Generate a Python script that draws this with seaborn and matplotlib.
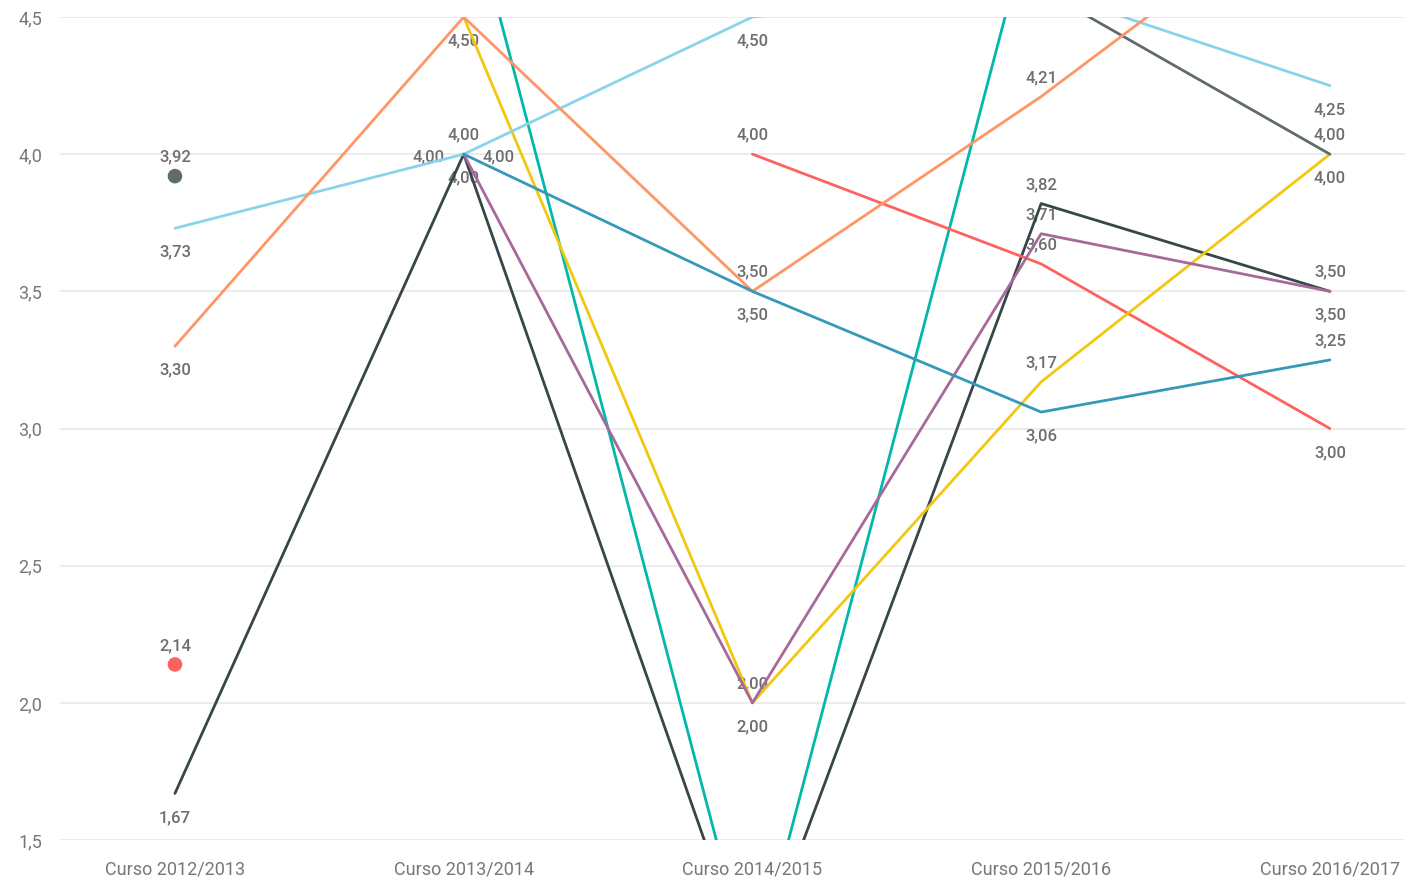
import numpy as np
import pandas as pd
import matplotlib.pyplot as plt
import seaborn as sns

nan = np.nan

CURSOS = ['Curso 2012/2013', 'Curso 2013/2014', 'Curso 2014/2015',
          'Curso 2015/2016', 'Curso 2016/2017']

# values (points outside 1.5-4.5 are clipped, estimated)
serie_1 = [nan, 5.00, 1.00, 5.00, 5.00]
serie_2 = [1.67, 4.00, 1.00, 3.82, 3.50]
serie_3 = [2.14, nan, 4.00, 3.60, 3.00]
serie_4 = [nan, 4.50, 2.00, 3.17, 4.00]
serie_5 = [3.92, nan, nan, 4.60, 4.00]
serie_6 = [3.73, 4.00, 4.50, 4.60, 4.25]
serie_7 = [3.30, 4.50, 3.50, 4.21, 5.00]
serie_8 = [nan, 4.00, 2.00, 3.71, 3.50]
serie_9 = [nan, 4.00, 3.50, 3.06, 3.25]

SERIES = {'Serie 1': serie_1, 'Serie 2': serie_2, 'Serie 3': serie_3,
          'Serie 4': serie_4, 'Serie 5': serie_5, 'Serie 6': serie_6,
          'Serie 7': serie_7, 'Serie 8': serie_8, 'Serie 9': serie_9}

COLORS = {'Serie 1': '#01B8AA', 'Serie 2': '#374649', 'Serie 3': '#FD625E',
          'Serie 4': '#F2C80F', 'Serie 5': '#5F6B6D', 'Serie 6': '#8AD4EB',
          'Serie 7': '#FE9666', 'Serie 8': '#A66999', 'Serie 9': '#3599B8'}

# where each data label sits: a=above, b=below, l=left, r=right, None=hidden
LABEL_POS = {'Serie 1': [None] * 5,
             'Serie 2': ['b', 'b', None, 'a', 'a'],
             'Serie 3': ['a', None, 'a', 'a', 'b'],
             'Serie 4': [None, 'b', 'a', 'a', 'b'],
             'Serie 5': ['a', None, None, None, 'a'],
             'Serie 6': ['b', 'a', 'b', None, 'b'],
             'Serie 7': ['b', None, 'a', 'a', None],
             'Serie 8': [None, 'l', 'b', 'a', 'b'],
             'Serie 9': [None, 'r', 'b', 'b', 'a']}
OFFSETS = {'a': (0, 19), 'b': (0, -24), 'l': (-35, -3), 'r': (35, -3)}

YMIN, YMAX = 1.5, 4.5

# long-form table, with a segment id so gaps break the lines
rows = []
for name, vals in SERIES.items():
    seg = 0
    for i, v in enumerate(vals):
        if np.isnan(v):
            seg += 1
            continue
        rows.append({'serie': name, 'pos': i, 'valor': v, 'seg': f'{name}-{seg}'})
df = pd.DataFrame(rows)
seg_size = df.groupby('seg')['pos'].transform('size')
lines = df[seg_size > 1]
dots = df[seg_size == 1]

sns.set_style('white')
plt.rcParams['font.family'] = ['Roboto', 'DejaVu Sans']

fig = plt.figure(figsize=(14.16, 8.81), dpi=100)
ax = fig.add_axes([0.0424, 0.0465, 0.9498, 0.9342])

for y in np.arange(YMIN, YMAX + 0.01, 0.5):
    ax.axhline(y, color='#ebebeb', linewidth=1.3, zorder=0)

sns.lineplot(data=lines, x='pos', y='valor', hue='serie', units='seg',
             estimator=None, palette=COLORS, linewidth=2.0, legend=False,
             ax=ax, zorder=3)
sns.scatterplot(data=dots, x='pos', y='valor', hue='serie', palette=COLORS,
                s=110, edgecolor='none', legend=False, ax=ax, zorder=4)

for name, vals in SERIES.items():
    for i, v in enumerate(vals):
        code = LABEL_POS[name][i]
        if code is None or np.isnan(v) or v < YMIN or v > YMAX:
            continue
        ax.annotate(f'{v:.2f}'.replace('.', ','), (i, v),
                    xytext=OFFSETS[code], textcoords='offset pixels',
                    ha='center', va='center', fontsize=12,
                    fontweight='medium', color='#6e6e6e', zorder=2)

ax.set_xlim(-0.398, 4.26)
ax.set_ylim(YMIN, YMAX)
ax.set_xticks(range(len(CURSOS)))
ax.set_xticklabels(CURSOS)
ax.set_yticks(np.arange(YMIN, YMAX + 0.01, 0.5))
ax.set_yticklabels([f'{t:.1f}'.replace('.', ',') for t in np.arange(YMIN, YMAX + 0.01, 0.5)])
ax.tick_params(axis='x', length=0, pad=15, labelsize=13, labelcolor='#777777')
ax.tick_params(axis='y', length=0, pad=13, labelsize=13, labelcolor='#777777')
ax.set_xlabel('')
ax.set_ylabel('')
sns.despine(ax=ax, left=True, bottom=True)

fig.savefig('out.png', dpi=100)
